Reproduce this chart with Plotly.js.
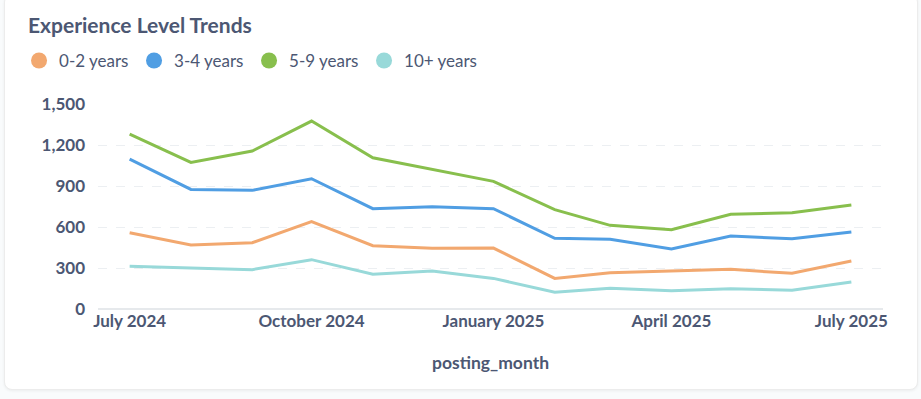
<!DOCTYPE html>
<html>
<head>
<meta charset="utf-8">
<script src="https://cdn.plot.ly/plotly-3.0.1.min.js"></script>
<style>
  html, body { margin: 0; padding: 0; width: 921px; height: 399px; background: #f9fbfc; overflow: hidden; }
  #card { position: absolute; left: 4px; top: -6px; width: 914px; height: 396px; background: #fff;
          border: 1px solid #ececec; border-radius: 8px; box-shadow: 0 1px 3px rgba(0,0,0,0.06); box-sizing: border-box; }
  #chart { position: absolute; left: 0; top: 0; width: 921px; height: 399px; }
</style>
</head>
<body>
<div id="card"></div>
<div id="chart"></div>
<script>
const months = ["2024-07-01","2024-08-01","2024-09-01","2024-10-01","2024-11-01","2024-12-01","2025-01-01",
                "2025-02-01","2025-03-01","2025-04-01","2025-05-01","2025-06-01","2025-07-01"];
const seriesNames = ["0-2 years", "3-4 years", "5-9 years", "10+ years"];
const years0to2 = [558, 468, 485, 639, 463, 444, 446, 224, 266, 280, 290, 261, 351];
const years3to4 = [1097, 875, 868, 953, 734, 748, 734, 517, 510, 439, 534, 514, 563];
const years5to9 = [1280, 1073, 1156, 1375, 1107, 1024, 934, 727, 612, 580, 693, 705, 761];
const years10plus = [312, 298, 288, 361, 254, 278, 224, 122, 151, 134, 149, 137, 198];
const tickVals = ["2024-07-01", "2024-10-01", "2025-01-01", "2025-04-01", "2025-07-01"];
const tickText = ["July 2024", "October 2024", "January 2025", "April 2025", "July 2025"];
const yTicks = [0, 300, 600, 900, 1200, 1500];

const colors = ["#F2A86F", "#509EE3", "#88BF4D", "#98D9D9"];
const seriesValues = [years0to2, years3to4, years5to9, years10plus];
const textColor = "#4C5773";

const traces = [];
seriesValues.forEach((vals, i) => {
  traces.push({
    x: months, y: vals, type: "scatter", mode: "lines", name: seriesNames[i],
    line: { color: colors[i], width: 3, shape: "linear" }, showlegend: false, hoverinfo: "x+y"
  });
});
seriesValues.forEach((vals, i) => {
  traces.push({
    x: [null], y: [null], type: "scatter", mode: "markers", name: seriesNames[i],
    marker: { color: colors[i], size: 17, symbol: "circle" }, showlegend: true
  });
});

const layout = {
  width: 921, height: 399,
  paper_bgcolor: "rgba(0,0,0,0)", plot_bgcolor: "rgba(0,0,0,0)",
  font: { family: "Lato, 'Noto Sans', sans-serif", color: textColor },
  margin: { l: 98, r: 38, t: 104, b: 90 },
  title: { text: "<b>Experience Level Trends</b>", x: 28 / 921, xref: "container", xanchor: "left",
           font: { size: 21, color: textColor, family: "Lato, sans-serif" }, y: 1 - 26 / 399, yref: "container", yanchor: "middle" },
  showlegend: true,
  legend: { orientation: "h", x: -0.1006, xref: "paper", y: 1.21, yanchor: "middle", xanchor: "left",
            entrywidth: 70, entrywidthmode: "pixels", itemwidth: 30,
            font: { size: 17, color: textColor, family: "Lato, sans-serif" }, traceorder: "normal" },
  xaxis: {
    type: "date", range: ["2024-06-15", "2025-07-17"],
    tickvals: tickVals, ticktext: tickText, tickangle: 0,
    tickfont: { size: 17, color: textColor, family: "Lato, sans-serif", weight: 700 },
    showgrid: false, zeroline: false, showline: false, ticks: "",
    title: { text: "posting_month", font: { size: 17.5, color: textColor, family: "Lato, sans-serif", weight: 700 }, standoff: 26 }
  },
  yaxis: {
    range: [0, 1500], tickvals: yTicks, tickformat: ",d",
    tickfont: { size: 17, color: textColor, family: "Lato, sans-serif", weight: 700 },
    showgrid: true, gridcolor: "#ECEFF2", griddash: "dash", gridwidth: 1,
    zeroline: true, zerolinecolor: "#E6E9EC", zerolinewidth: 2,
    showline: false, ticks: "", ticklabelstandoff: 12
  },
  hovermode: "closest"
};

Plotly.newPlot("chart", traces, layout, { displayModeBar: false, staticPlot: true });
</script>
</body>
</html>
